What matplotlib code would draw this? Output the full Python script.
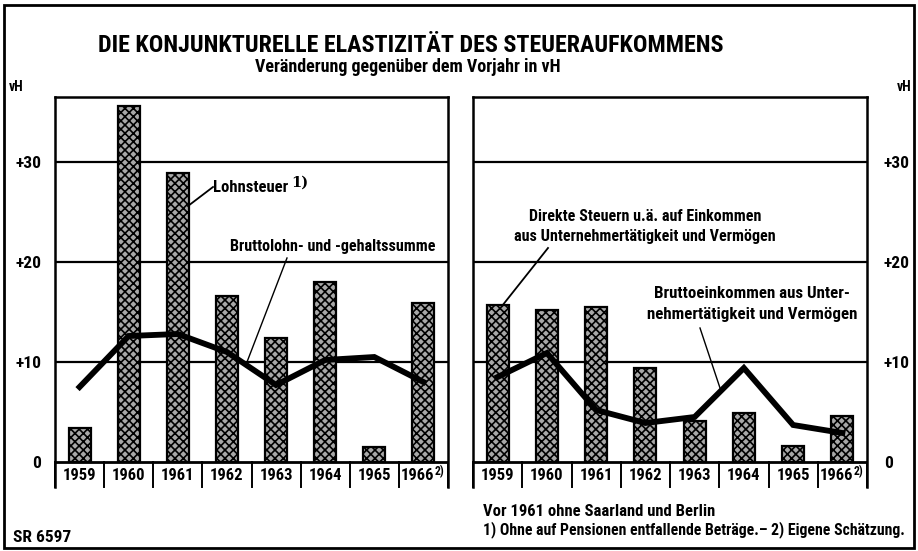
import matplotlib
matplotlib.use("Agg")
import matplotlib.pyplot as plt
from matplotlib import font_manager
from matplotlib.lines import Line2D
from matplotlib.patches import Rectangle

# ---------------- data ----------------
years = ["1959", "1960", "1961", "1962", "1963", "1964", "1965", "1966"]
lohnsteuer = [3.4, 35.6, 28.9, 16.6, 12.4, 18.0, 1.5, 15.9]
bruttolohn = [7.5, 12.6, 12.8, 11.0, 7.7, 10.2, 10.5, 8.0]
direkte_steuern = [15.7, 15.2, 15.5, 9.4, 4.1, 4.9, 1.6, 4.6]
bruttoeinkommen = [8.5, 10.9, 5.2, 3.9, 4.5, 9.4, 3.7, 2.9]
grid_values = [10, 20, 30]
tick_values = [0, 10, 20, 30]
tick_labels = ["0", "+10", "+20", "+30"]

W, H = 918, 551

available = {f.name for f in font_manager.fontManager.ttflist}
candidates = ['Liberation Sans Narrow', 'DejaVu Sans Condensed', 'Roboto Condensed',
              'Liberation Sans', 'Roboto', 'DejaVu Sans']
chosen = [c for c in candidates if c in available] or ['DejaVu Sans']
FONT = chosen[0]
plt.rcParams['font.family'] = [FONT, 'DejaVu Sans']
plt.rcParams['font.weight'] = 'bold'
plt.rcParams['hatch.linewidth'] = 1.2

fig = plt.figure(figsize=(W / 100, H / 100), dpi=100)
fig.patch.set_facecolor('white')


def fx(x):
    return x / W


def fy(y):
    return 1 - y / H


def make_axes(x0, x1, y_top, y_bot):
    return fig.add_axes([fx(x0), fy(y_bot), (x1 - x0) / W, (y_bot - y_top) / H])


YMIN, YMAX = -2.5, 36.5
n = len(years)
xs = list(range(n))


def draw_panel(ax, bars, line, side):
    ax.set_xlim(-0.5, n - 0.5)
    ax.set_ylim(YMIN, YMAX)
    for g in grid_values:
        ax.axhline(g, color='black', lw=1.6, zorder=1)
    ax.axhline(0, color='black', lw=2.0, zorder=3)
    ax.bar(xs, bars, width=0.45, facecolor='#a8a8a8', edgecolor='black',
           hatch='xxxx', linewidth=1.6, zorder=2)
    ax.plot(xs, line, color='black', lw=4.2, solid_joinstyle='miter', zorder=4)
    # separators of the year row
    for k in range(n + 1):
        ax.plot([k - 0.5, k - 0.5], [YMIN, 0], color='black', lw=1.4,
                zorder=3, clip_on=False)
    for i, yr in enumerate(years):
        if i == n - 1:
            ax.text(i - 0.12, -1.3, yr, ha='center', va='center', fontsize=12)
            ax.text(i + 0.33, -0.95, "2)", ha='center', va='center', fontsize=8.5)
        else:
            ax.text(i, -1.3, yr, ha='center', va='center', fontsize=12)
    ax.set_xticks([])
    ax.set_yticks(tick_values)
    ax.set_yticklabels(tick_labels, fontsize=12.5, fontweight='bold')
    if side == 'right':
        ax.yaxis.tick_right()
        ax.tick_params(axis='y', length=0, pad=12)
    else:
        ax.tick_params(axis='y', length=0, pad=10)
    for s in ['left', 'right', 'top']:
        ax.spines[s].set_linewidth(1.8)
    ax.spines['bottom'].set_visible(False)


axL = make_axes(55, 448, 97, 487)
draw_panel(axL, lohnsteuer, bruttolohn, 'left')
axR = make_axes(473, 867, 97, 487)
draw_panel(axR, direkte_steuern, bruttoeinkommen, 'right')

# ---------------- titles ----------------
fig.text(fx(411), fy(45), "DIE KONJUNKTURELLE ELASTIZITÄT DES STEUERAUFKOMMENS",
         ha='center', va='center', fontsize=17.3)
fig.text(fx(408), fy(67), "Veränderung gegenüber dem Vorjahr in vH",
         ha='center', va='center', fontsize=13)
fig.text(fx(16), fy(87), "vH", ha='center', va='center', fontsize=10)
fig.text(fx(904), fy(87), "vH", ha='center', va='center', fontsize=10)

# ---------------- annotations ----------------
def leader(x0, y0, x1, y1, lw=1.3):
    fig.add_artist(Line2D([fx(x0), fx(x1)], [fy(y0), fy(y1)], color='black',
                          lw=lw, transform=fig.transFigure))


fig.text(fx(213), fy(188), "Lohnsteuer", ha='left', va='center', fontsize=12)
fig.text(fx(291), fy(183), "1)", ha='left', va='center', fontsize=10.5,
         family=['DejaVu Serif'], fontweight='bold')
leader(188, 206, 213, 187)

fig.text(fx(333), fy(246), "Bruttolohn- und -gehaltssumme", ha='center',
         va='center', fontsize=11.6)
leader(287, 258, 247, 362, lw=1.0)

fig.text(fx(645), fy(217), "Direkte Steuern u.ä. auf Einkommen", ha='center',
         va='center', fontsize=11.6)
fig.text(fx(645), fy(237), "aus Unternehmertätigkeit und Vermögen", ha='center',
         va='center', fontsize=11.6)
leader(548, 248, 502, 306)

fig.text(fx(752), fy(294), "Bruttoeinkommen aus Unter-", ha='center',
         va='center', fontsize=12.2)
fig.text(fx(752), fy(314), "nehmertätigkeit und Vermögen", ha='center',
         va='center', fontsize=12.2)
leader(700, 328, 720, 388, lw=1.0)

# ---------------- footnotes ----------------
fig.text(fx(483), fy(512), "Vor 1961 ohne Saarland und Berlin", ha='left',
         va='center', fontsize=12)
fig.text(fx(483), fy(530),
         "1) Ohne auf Pensionen entfallende Beträge.– 2) Eigene Schätzung.",
         ha='left', va='center', fontsize=11.3)
fig.text(fx(13), fy(538), "SR 6597", ha='left', va='center', fontsize=12.5)

# outer frame
fig.add_artist(Rectangle((fx(4), fy(548)), 910 / W, 543 / H, fill=False,
                         edgecolor='black', lw=2.0, transform=fig.transFigure))

fig.savefig("out.png", dpi=100, facecolor='white')
